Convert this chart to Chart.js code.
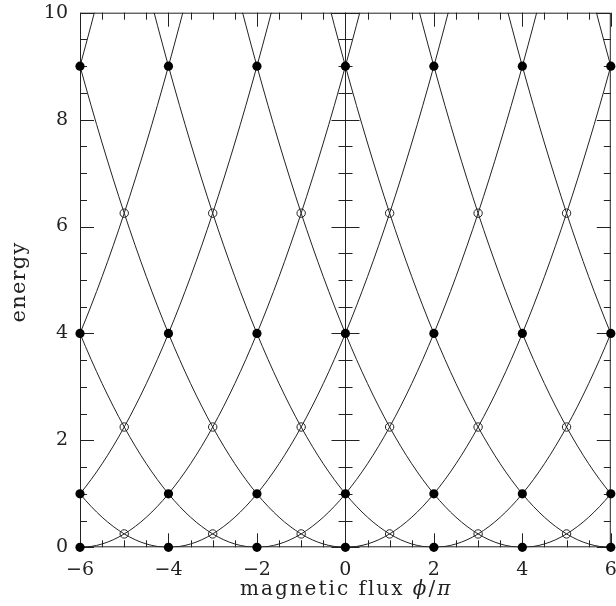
<!DOCTYPE html>
<html>
<head>
<meta charset="utf-8">
<style>
html,body{margin:0;padding:0;background:#fff;}
canvas{display:block;}
</style>
<script src="https://cdn.jsdelivr.net/npm/chart.js@4.4.1/dist/chart.umd.min.js"></script>
</head>
<body>
<canvas id="c" width="616" height="606"></canvas>
<script>
// Parabola minima (x positions, in units of phi/pi)
const parabolaCenters = [-12, -10, -8, -6, -4, -2, 0, 2, 4, 6, 8, 10, 12];
// Offsets from each minimum and the energies read at those offsets
const offsets  = [-8, -7, -6, -5, -4, -3, -2, -1, 0, 1, 2, 3, 4, 5, 6, 7, 8];
const energies = [16, 12.25, 9, 6.25, 4, 2.25, 1, 0.25, 0, 0.25, 1, 2.25, 4, 6.25, 9, 12.25, 16];
// Filled markers (level crossings at even flux)
const filledX = [-6, -4, -2, 0, 2, 4, 6];
const filledY = [0, 1, 4, 9];
// Open markers (level crossings at odd flux)
const openX = [-5, -3, -1, 1, 3, 5];
const openY = [0.25, 2.25, 6.25];
// Tick labels
const xTicks = [-6, -4, -2, 0, 2, 4, 6];
const yTicks = [0, 2, 4, 6, 8, 10];
const xTitle = ['magnetic flux ', '\u03D5', '/', '\u03C0'];
const yTitle = 'energy';

const FONT = "'DejaVu Serif', 'Liberation Serif', serif";
const INK = '#222';

function pts(xs, ys) {
  const out = [];
  xs.forEach(x => ys.forEach(y => out.push({x: x, y: y})));
  return out;
}

const datasets = [];
datasets.push({
  type: 'scatter', data: pts(filledX, filledY),
  pointRadius: 4.6, pointBackgroundColor: '#000', pointBorderColor: '#000', pointBorderWidth: 0,
  clip: false, showLine: false
});
datasets.push({
  type: 'scatter', data: pts(openX, openY),
  pointRadius: 4.2, pointBackgroundColor: 'rgba(0,0,0,0)', pointBorderColor: INK, pointBorderWidth: 1,
  clip: false, showLine: false
});
parabolaCenters.forEach(c => {
  datasets.push({
    type: 'line',
    data: offsets.map((o, i) => ({x: c + o, y: energies[i]})),
    borderColor: INK, borderWidth: 1, pointRadius: 0,
    cubicInterpolationMode: 'monotone', fill: false
  });
});

const axesPlugin = {
  id: 'axes',
  beforeDatasetsDraw(chart) {
    const ctx = chart.ctx, xs = chart.scales.x, ys = chart.scales.y;
    const a = chart.chartArea;
    ctx.save();
    ctx.strokeStyle = INK;
    ctx.lineWidth = 1;
    ctx.beginPath();
    ctx.rect(a.left + 0.5, a.top + 0.5, a.right - a.left - 1, a.bottom - a.top - 1);
    const x0 = Math.round(xs.getPixelForValue(0)) + 0.5;
    ctx.moveTo(x0, a.top); ctx.lineTo(x0, a.bottom);
    const MAJ = 14, MIN = 7;
    for (let v = -6; v <= 6.001; v += 0.5) {
      const px = Math.round(xs.getPixelForValue(v)) + 0.5;
      const L = (Math.abs(v % 2) < 1e-6) ? MAJ : MIN;
      ctx.moveTo(px, a.bottom); ctx.lineTo(px, a.bottom - L);
      ctx.moveTo(px, a.top); ctx.lineTo(px, a.top + L);
    }
    for (let v = 0; v <= 10.001; v += 0.5) {
      const py = Math.round(ys.getPixelForValue(v)) + 0.5;
      const L = (Math.abs(v % 2) < 1e-6) ? MAJ : MIN;
      ctx.moveTo(a.left, py); ctx.lineTo(a.left + L, py);
      ctx.moveTo(a.right, py); ctx.lineTo(a.right - L, py);
      ctx.moveTo(x0 - L, py); ctx.lineTo(x0 + L, py);
    }
    ctx.stroke();
    ctx.restore();
  },
  afterDraw(chart) {
    const ctx = chart.ctx;
    ctx.save();
    ctx.fillStyle = INK;
    ctx.textBaseline = 'alphabetic';
    // x title with italic symbols
    const styles = ['', 'italic ', '', 'italic '];
    const parts = xTitle.map((t, i) => ({t: t, f: styles[i] + '20px ' + FONT}));
    ctx.letterSpacing = '0px';
    let raw = 0, n = 0;
    parts.forEach(p => { ctx.font = p.f; raw += ctx.measureText(p.t).width; n += [...p.t].length; });
    const ls = Math.max(0, (212 - raw) / n);
    ctx.letterSpacing = ls.toFixed(2) + 'px';
    parts.forEach(p => { ctx.font = p.f; p.w = ctx.measureText(p.t).width; });
    let x = 240;
    parts.forEach(p => { ctx.font = p.f; ctx.fillText(p.t, x, 595); x += p.w; });
    // y title
    ctx.font = '21px ' + FONT;
    ctx.letterSpacing = '0px';
    const w0 = ctx.measureText(yTitle).width;
    const ls2 = Math.max(0, (81 - w0) / yTitle.length);
    ctx.letterSpacing = ls2.toFixed(2) + 'px';
    const w1 = ctx.measureText(yTitle).width;
    ctx.translate(25, 282);
    ctx.rotate(-Math.PI / 2);
    ctx.textAlign = 'left';
    ctx.fillText(yTitle, -w1 / 2, 0);
    ctx.restore();
  }
};

new Chart(document.getElementById('c'), {
  data: {datasets: datasets},
  options: {
    responsive: false,
    animation: false,
    events: [],
    layout: {padding: {top: 12.7, right: 2.7, left: 0, bottom: 0}},
    plugins: {legend: {display: false}, tooltip: {enabled: false}},
    elements: {line: {capBezierPoints: false}},
    scales: {
      x: {
        type: 'linear', min: -6, max: 6,
        grid: {display: false}, border: {display: false},
        afterBuildTicks(s) { s.ticks = xTicks.map(v => ({value: v})); },
        ticks: {
          font: {family: FONT, size: 19}, color: INK, padding: 3, maxRotation: 0,
          callback: v => v < 0 ? '\u2212' + Math.abs(v) : String(v)
        },
        afterFit(s) { s.height = 58.7; s.paddingLeft = 0; s.paddingRight = 0; }
      },
      y: {
        type: 'linear', min: 0, max: 10,
        grid: {display: false}, border: {display: false},
        afterBuildTicks(s) { s.ticks = yTicks.map(v => ({value: v})); },
        ticks: {font: {family: FONT, size: 19}, color: INK, padding: 4},
        afterFit(s) { s.width = 80; s.paddingTop = 0; s.paddingBottom = 0; }
      }
    }
  },
  plugins: [axesPlugin]
});
</script>
</body>
</html>
